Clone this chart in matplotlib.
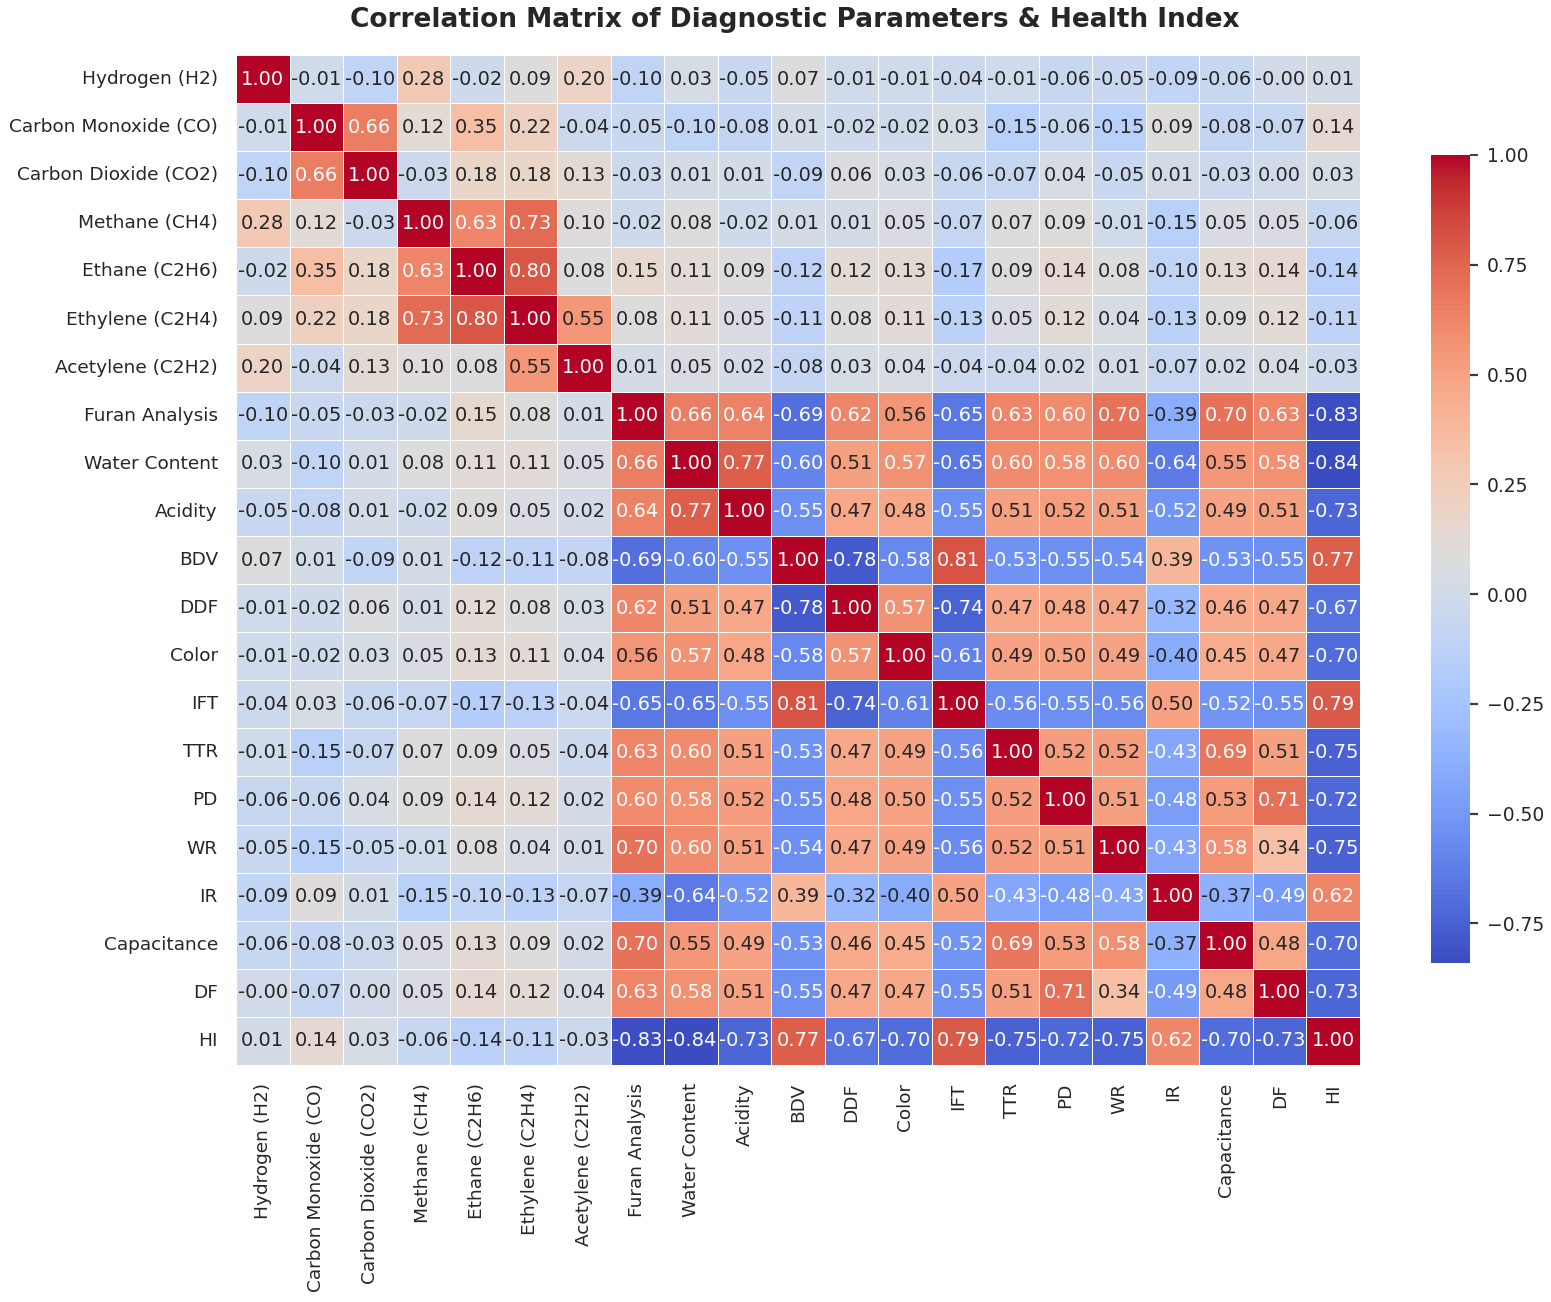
import matplotlib
matplotlib.use("Agg")
import matplotlib.pyplot as plt
import matplotlib.transforms as mtransforms
import numpy as np
import pandas as pd
import seaborn as sns

labels = ["Hydrogen (H2)", "Carbon Monoxide (CO)", "Carbon Dioxide (CO2)", "Methane (CH4)",
          "Ethane (C2H6)", "Ethylene (C2H4)", "Acetylene (C2H2)", "Furan Analysis",
          "Water Content", "Acidity", "BDV", "DDF", "Color", "IFT", "TTR", "PD", "WR",
          "IR", "Capacitance", "DF", "HI"]

corr_values = [
    [1.00, -0.01, -0.10, 0.28, -0.02, 0.09, 0.20, -0.10, 0.03, -0.05, 0.07, -0.01, -0.01, -0.04, -0.01, -0.06, -0.05, -0.09, -0.06, -0.00, 0.01],
    [-0.01, 1.00, 0.66, 0.12, 0.35, 0.22, -0.04, -0.05, -0.10, -0.08, 0.01, -0.02, -0.02, 0.03, -0.15, -0.06, -0.15, 0.09, -0.08, -0.07, 0.14],
    [-0.10, 0.66, 1.00, -0.03, 0.18, 0.18, 0.13, -0.03, 0.01, 0.01, -0.09, 0.06, 0.03, -0.06, -0.07, 0.04, -0.05, 0.01, -0.03, 0.00, 0.03],
    [0.28, 0.12, -0.03, 1.00, 0.63, 0.73, 0.10, -0.02, 0.08, -0.02, 0.01, 0.01, 0.05, -0.07, 0.07, 0.09, -0.01, -0.15, 0.05, 0.05, -0.06],
    [-0.02, 0.35, 0.18, 0.63, 1.00, 0.80, 0.08, 0.15, 0.11, 0.09, -0.12, 0.12, 0.13, -0.17, 0.09, 0.14, 0.08, -0.10, 0.13, 0.14, -0.14],
    [0.09, 0.22, 0.18, 0.73, 0.80, 1.00, 0.55, 0.08, 0.11, 0.05, -0.11, 0.08, 0.11, -0.13, 0.05, 0.12, 0.04, -0.13, 0.09, 0.12, -0.11],
    [0.20, -0.04, 0.13, 0.10, 0.08, 0.55, 1.00, 0.01, 0.05, 0.02, -0.08, 0.03, 0.04, -0.04, -0.04, 0.02, 0.01, -0.07, 0.02, 0.04, -0.03],
    [-0.10, -0.05, -0.03, -0.02, 0.15, 0.08, 0.01, 1.00, 0.66, 0.64, -0.69, 0.62, 0.56, -0.65, 0.63, 0.60, 0.70, -0.39, 0.70, 0.63, -0.83],
    [0.03, -0.10, 0.01, 0.08, 0.11, 0.11, 0.05, 0.66, 1.00, 0.77, -0.60, 0.51, 0.57, -0.65, 0.60, 0.58, 0.60, -0.64, 0.55, 0.58, -0.84],
    [-0.05, -0.08, 0.01, -0.02, 0.09, 0.05, 0.02, 0.64, 0.77, 1.00, -0.55, 0.47, 0.48, -0.55, 0.51, 0.52, 0.51, -0.52, 0.49, 0.51, -0.73],
    [0.07, 0.01, -0.09, 0.01, -0.12, -0.11, -0.08, -0.69, -0.60, -0.55, 1.00, -0.78, -0.58, 0.81, -0.53, -0.55, -0.54, 0.39, -0.53, -0.55, 0.77],
    [-0.01, -0.02, 0.06, 0.01, 0.12, 0.08, 0.03, 0.62, 0.51, 0.47, -0.78, 1.00, 0.57, -0.74, 0.47, 0.48, 0.47, -0.32, 0.46, 0.47, -0.67],
    [-0.01, -0.02, 0.03, 0.05, 0.13, 0.11, 0.04, 0.56, 0.57, 0.48, -0.58, 0.57, 1.00, -0.61, 0.49, 0.50, 0.49, -0.40, 0.45, 0.47, -0.70],
    [-0.04, 0.03, -0.06, -0.07, -0.17, -0.13, -0.04, -0.65, -0.65, -0.55, 0.81, -0.74, -0.61, 1.00, -0.56, -0.55, -0.56, 0.50, -0.52, -0.55, 0.79],
    [-0.01, -0.15, -0.07, 0.07, 0.09, 0.05, -0.04, 0.63, 0.60, 0.51, -0.53, 0.47, 0.49, -0.56, 1.00, 0.52, 0.52, -0.43, 0.69, 0.51, -0.75],
    [-0.06, -0.06, 0.04, 0.09, 0.14, 0.12, 0.02, 0.60, 0.58, 0.52, -0.55, 0.48, 0.50, -0.55, 0.52, 1.00, 0.51, -0.48, 0.53, 0.71, -0.72],
    [-0.05, -0.15, -0.05, -0.01, 0.08, 0.04, 0.01, 0.70, 0.60, 0.51, -0.54, 0.47, 0.49, -0.56, 0.52, 0.51, 1.00, -0.43, 0.58, 0.34, -0.75],
    [-0.09, 0.09, 0.01, -0.15, -0.10, -0.13, -0.07, -0.39, -0.64, -0.52, 0.39, -0.32, -0.40, 0.50, -0.43, -0.48, -0.43, 1.00, -0.37, -0.49, 0.62],
    [-0.06, -0.08, -0.03, 0.05, 0.13, 0.09, 0.02, 0.70, 0.55, 0.49, -0.53, 0.46, 0.45, -0.52, 0.69, 0.53, 0.58, -0.37, 1.00, 0.48, -0.70],
    [-0.00, -0.07, 0.00, 0.05, 0.14, 0.12, 0.04, 0.63, 0.58, 0.51, -0.55, 0.47, 0.47, -0.55, 0.51, 0.71, 0.34, -0.49, 0.48, 1.00, -0.73],
    [0.01, 0.14, 0.03, -0.06, -0.14, -0.11, -0.03, -0.83, -0.84, -0.73, 0.77, -0.67, -0.70, 0.79, -0.75, -0.72, -0.75, 0.62, -0.70, -0.73, 1.00],
]

corr = pd.DataFrame(np.array(corr_values), index=labels, columns=labels)

sns.set_theme(style="white")
plt.rcParams['font.family'] = ['DejaVu Sans']

fig = plt.figure(figsize=(15.51, 13.02), dpi=100)
ax = fig.add_axes([236/1551, 1 - 1065/1302, (1360-236)/1551, (1065-55)/1302])
cax = fig.add_axes([1431/1551, 1 - 963/1302, 39/1551, (963-155)/1302])

sns.heatmap(corr, ax=ax, cbar_ax=cax, cmap="coolwarm", annot=True, fmt=".2f",
            linewidths=0.5, linecolor="white", annot_kws={"size": 14})

# heatmap axes: no visible tick marks, labels pushed away from the cells
ax.tick_params(axis="both", labelsize=13.3, length=0, pad=13)
ax.set_xticklabels(labels, rotation=90)
ax.set_yticklabels(labels, rotation=0)

cax.tick_params(axis="y", labelsize=13.5, length=6, pad=6)

# short dark tick marks next to the colorbar labels
fig.canvas.draw()
trans = mtransforms.blended_transform_factory(cax.transAxes, cax.transData)
lo, hi = cax.get_ylim()
for v in cax.get_yticks():
    if lo <= v <= hi:
        cax.plot([1.0, 1.2], [v, v], color="#3a3a3a", lw=1.6, transform=trans,
                 clip_on=False, solid_capstyle="butt")

fig.suptitle("Correlation Matrix of Diagnostic Parameters & Health Index",
             fontsize=19, fontweight="bold", x=795/1551, y=1 - 20/1302, va="center")

fig.savefig("out.png", dpi=100)
